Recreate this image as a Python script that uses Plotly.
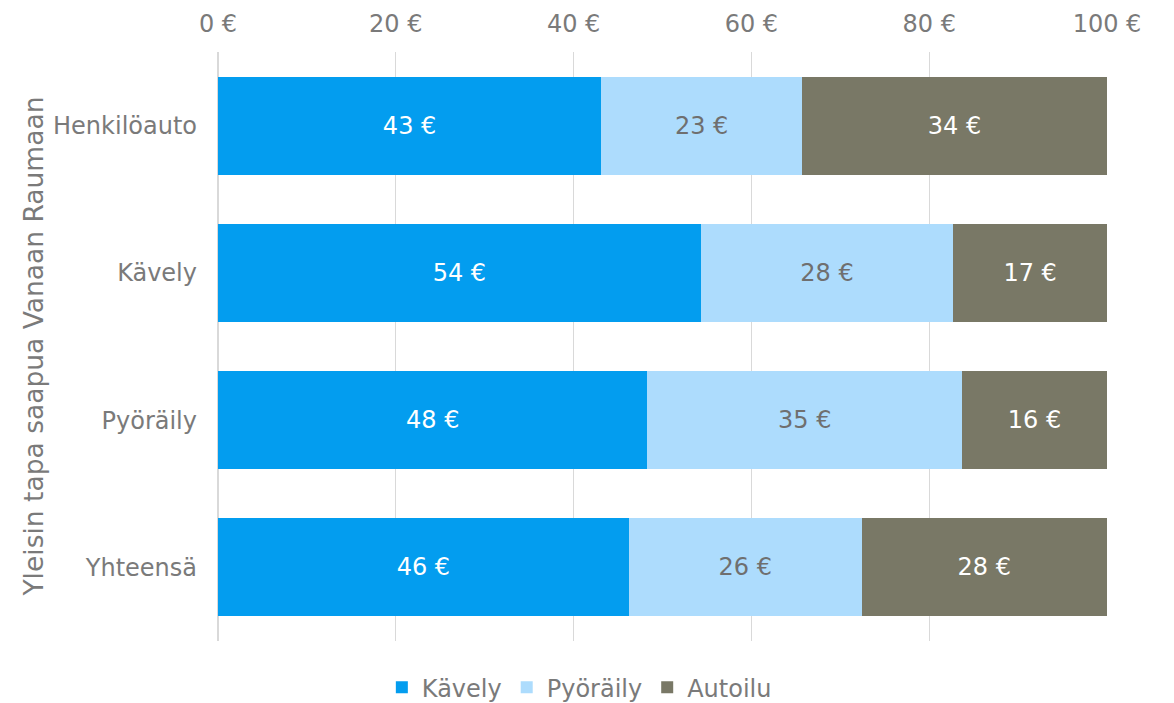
import plotly.graph_objects as go

categories = ["Henkilöauto", "Kävely", "Pyöräily", "Yhteensä"]
kavely = [43.1, 54.3, 48.3, 46.2]
pyoraily = [22.6, 28.4, 35.4, 26.2]
autoilu = [34.3, 17.3, 16.3, 27.6]
tick_vals = [0, 20, 40, 60, 80, 100]
tick_text = ["0 €", "20 €", "40 €", "60 €", "80 €", "100 €"]
axis_title = "Yleisin tapa saapua Vanaan Raumaan"

FONT = "DejaVu Sans, Verdana, sans-serif"
GREY = "#7a7a7a"
FS = 24

series = [
    ("Kävely", kavely, "#039DEF", "white"),
    ("Pyöräily", pyoraily, "#ADDCFD", "#6f6f6f"),
    ("Autoilu", autoilu, "#797866", "white"),
]

fig = go.Figure()
for name, vals, color, tcolor in series:
    fig.add_trace(go.Bar(
        name=name, y=categories, x=vals, orientation="h",
        marker=dict(color=color, line=dict(width=0)),
        text=[f"{round(v):.0f} €" for v in vals],
        texttemplate="%{text}",
        textposition="inside", insidetextanchor="middle",
        textfont=dict(family=FONT, size=FS, color=tcolor),
        constraintext="none",
    ))

fig.update_layout(
    barmode="stack",
    bargap=0.333,
    width=1166, height=695,
    margin=dict(l=210, r=67, t=44, b=62, autoexpand=False),
    paper_bgcolor="white", plot_bgcolor="white",
    font=dict(family=FONT, size=FS, color=GREY),
    legend=dict(
        orientation="h", xref="container",
        x=0.49, xanchor="center", y=-0.079, yanchor="middle",
        font=dict(family=FONT, size=FS, color=GREY),
        traceorder="normal", itemwidth=30, tracegroupgap=0,
    ),
    showlegend=True,
    annotations=[dict(
        text=axis_title, xref="paper", yref="paper",
        x=-0.208, y=0.5, xanchor="center", yanchor="middle",
        textangle=-90, showarrow=False,
        font=dict(family=FONT, size=26.5, color=GREY),
    )],
)
fig.update_xaxes(
    side="top", range=[0, 100], tickvals=tick_vals, ticktext=tick_text,
    showgrid=True, gridcolor="#d9d9d9", gridwidth=1,
    zeroline=True, zerolinecolor="#d9d9d9", zerolinewidth=2,
    showline=False, ticks="", automargin=False,
    ticklabelstandoff=14,
    tickfont=dict(family=FONT, size=FS, color=GREY),
)
fig.update_yaxes(
    categoryorder="array", categoryarray=categories, autorange="reversed",
    showgrid=False, zeroline=False, showline=False, ticks="", automargin=False,
    ticklabelstandoff=20,
    tickfont=dict(family=FONT, size=FS, color=GREY),
)

fig.write_html("out.html")
